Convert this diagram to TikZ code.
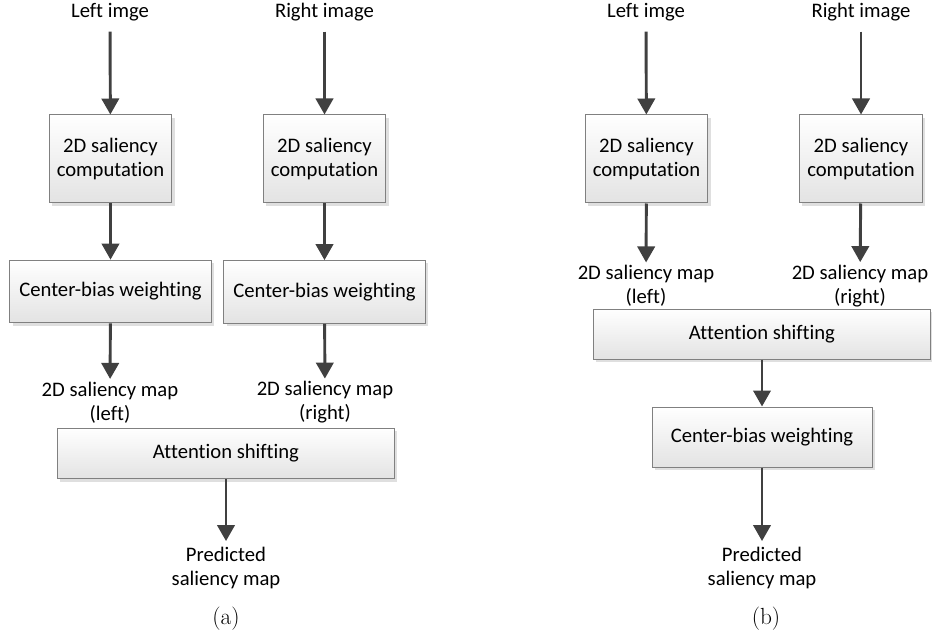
\documentclass[tikz,border=0pt]{standalone}
\usepackage{fontspec}
\newfontfamily\calib[Ligatures=NoCommon]{Carlito}
\usepackage{tikz}
\usetikzlibrary{arrows.meta, shadows, calc}

\tikzset{
    stage/.style={draw=black!50, line width=0.75pt, top color=white, bottom color=black!11,
        drop shadow={shadow xshift=2pt, shadow yshift=-2pt, fill=black!25, opacity=0.5},
        align=center, inner sep=2pt, font=\calib\fontsize{15.5}{18}\selectfont},
    lbl/.style={align=center, inner sep=2pt, font=\calib\fontsize{15.5}{18}\selectfont},
    inp/.style={lbl, outer sep=6pt},
    flow/.style={draw=black!75, line width=2.2pt, -{Triangle[width=13pt,length=12pt]}},
    subcap/.style={font=\fontsize{17.5}{20}\selectfont},
}

\begin{document}
\begin{tikzpicture}[x=0.75pt, y=-0.75pt]
    \useasboundingbox (0,0) rectangle (932,638);

    % (a): center-bias per view, then attention shifting
    \node[inp] (limgA) at (110,12) {Left imge};
    \node[inp] (rimgA) at (324.5,12) {Right image};
    \node[stage, minimum width=92pt, minimum height=66pt] (lcompA) at (110.5,159) {2D saliency\\computation};
    \node[stage, minimum width=92pt, minimum height=66pt] (rcompA) at (324.5,159) {2D saliency\\computation};
    \node[stage, minimum width=151pt, minimum height=47pt] (lcbA) at (110.5,291.5) {Center-bias weighting};
    \node[stage, minimum width=151pt, minimum height=47pt] (rcbA) at (324.5,292) {Center-bias weighting};
    \node[lbl] (lmapA) at (110,402.5) {2D saliency map\\(left)};
    \node[lbl] (rmapA) at (325,402.5) {2D saliency map\\(right)};
    \node[stage, minimum width=253pt, minimum height=38pt] (attA) at (226,453.5) {Attention shifting};
    \node[lbl, inner sep=4pt] (predA) at (226,567.5) {Predicted\\saliency map};
    \node[subcap] (capA) at (226,619) {(a)};

    \draw[flow] (limgA) -- (lcompA);
    \draw[flow] (rimgA) -- (rcompA);
    \draw[flow] (lcompA) -- (lcbA);
    \draw[flow] (rcompA) -- (rcbA);
    \draw[flow] (lcbA) -- (lmapA);
    \draw[flow] (rcbA) -- (rmapA);
    \draw[flow] (attA) -- (predA);

    % (b): attention shifting first, then a single center-bias weighting
    \node[inp] (limgB) at (646,12) {Left imge};
    \node[inp] (rimgB) at (861,12) {Right image};
    \node[stage, minimum width=92pt, minimum height=66pt] (lcompB) at (646.5,159) {2D saliency\\computation};
    \node[stage, minimum width=92pt, minimum height=66pt] (rcompB) at (861,159) {2D saliency\\computation};
    \node[lbl] (lmapB) at (646,286) {2D saliency map\\(left)};
    \node[lbl] (rmapB) at (860,286) {2D saliency map\\(right)};
    \node[stage, minimum width=253pt, minimum height=37.5pt] (attB) at (762,334) {Attention shifting};
    \node[stage, minimum width=165pt, minimum height=45pt] (cbB) at (762,437) {Center-bias weighting};
    \node[lbl, inner sep=4pt] (predB) at (762,567.5) {Predicted\\saliency map};
    \node[subcap] (capB) at (766,619) {(b)};

    \draw[flow] (limgB) -- (lcompB);
    \draw[flow] (rimgB) -- (rcompB);
    \draw[flow] (lcompB) -- (lmapB);
    \draw[flow] (rcompB) -- (rmapB);
    \draw[flow] (attB) -- (cbB);
    \draw[flow] (cbB) -- (predB);
\end{tikzpicture}
\end{document}
